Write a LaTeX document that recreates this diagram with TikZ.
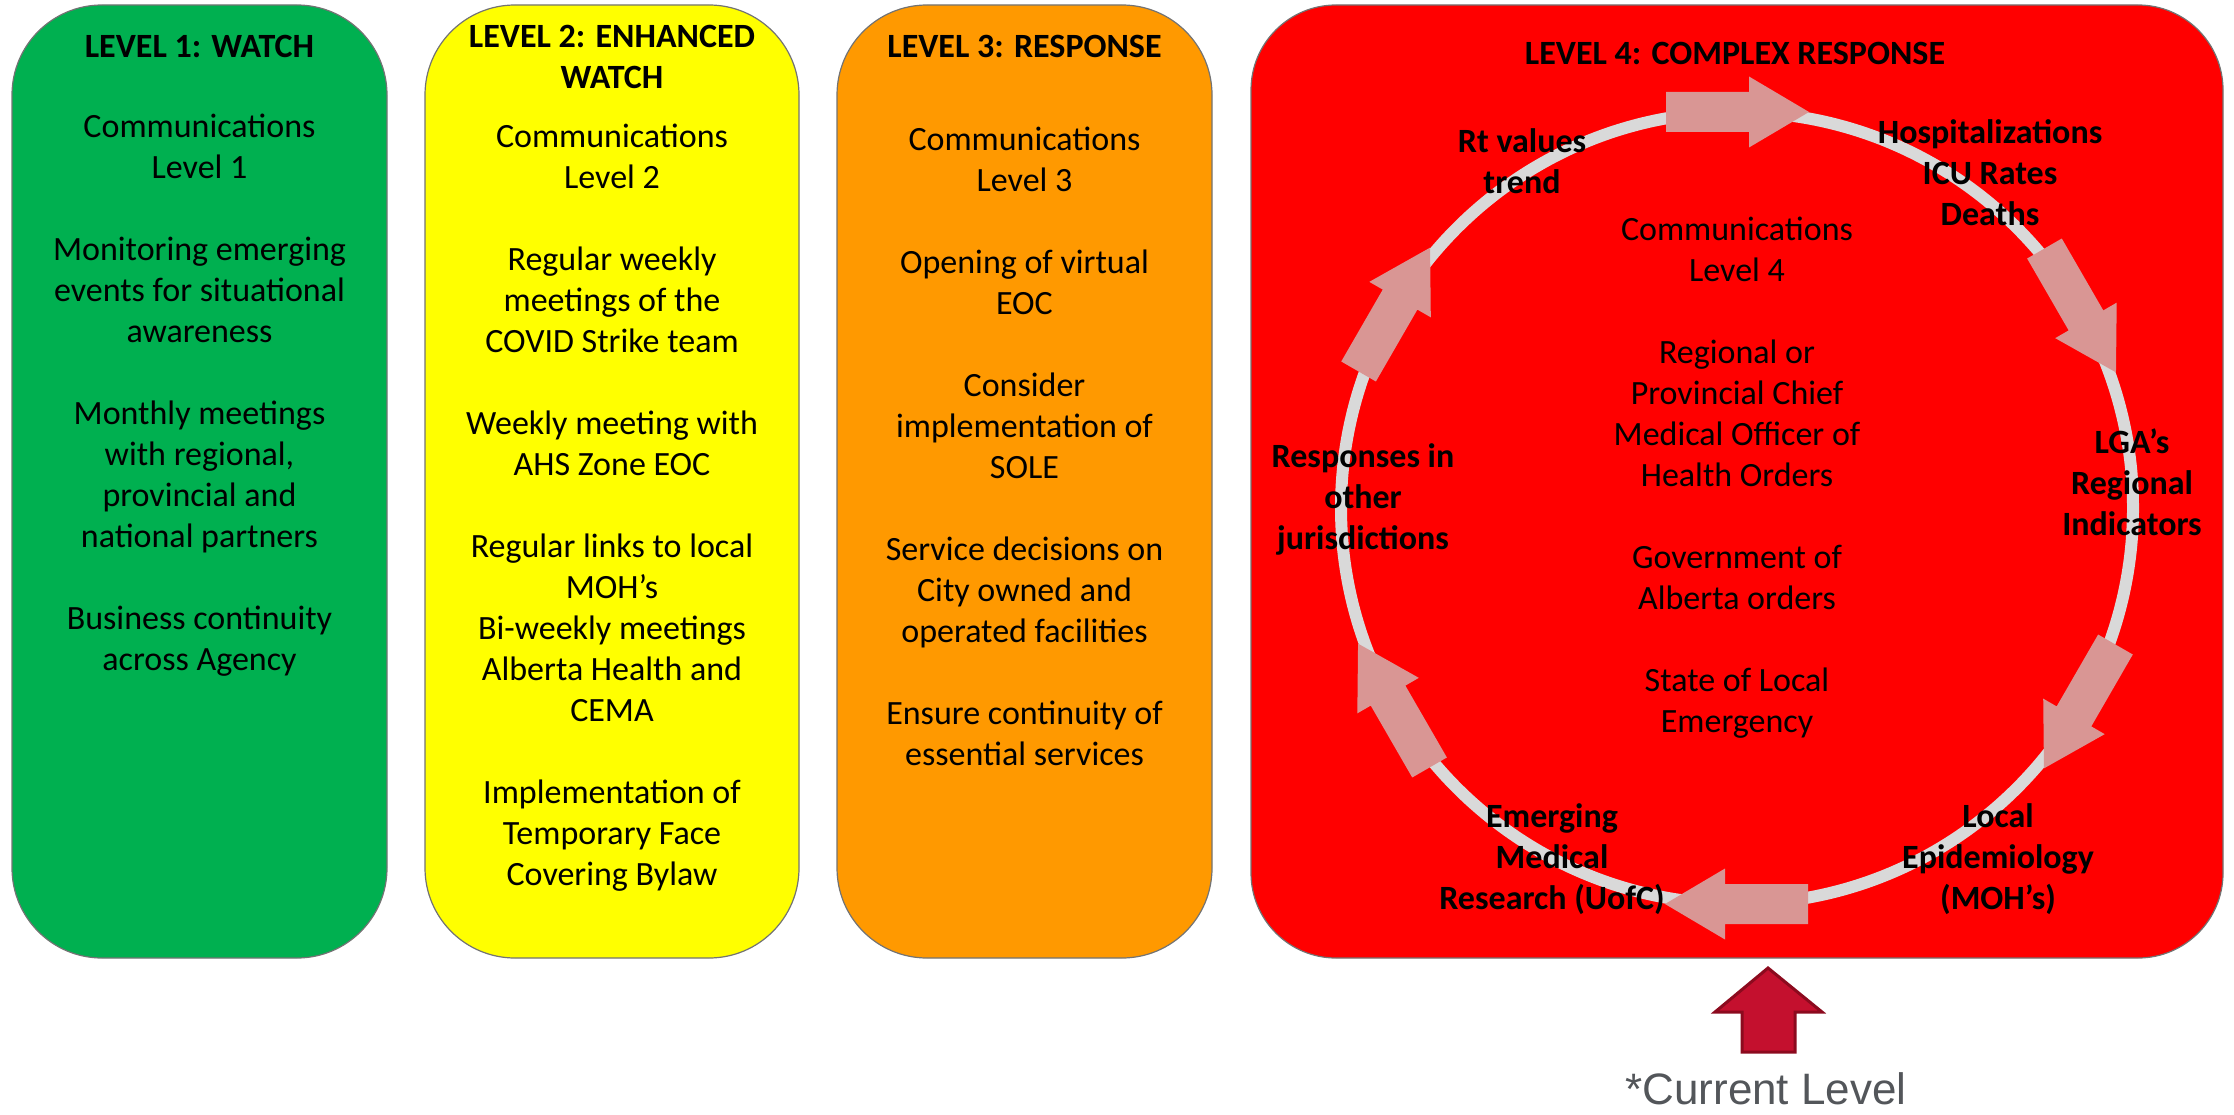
\documentclass[tikz,border=0pt]{standalone}
\usepackage{fontspec}
\setmainfont{Carlito}
\newfontfamily\arialfont{Liberation Sans}
\definecolor{lvgreen}{RGB}{0,176,80}
\definecolor{lvyellow}{RGB}{255,255,0}
\definecolor{lvorange}{RGB}{255,153,0}
\definecolor{lvred}{RGB}{255,0,0}
\definecolor{ringgray}{RGB}{217,217,217}
\definecolor{ringarrow}{RGB}{217,150,148}
\definecolor{curred}{RGB}{196,16,46}
\definecolor{curdark}{RGB}{140,10,30}
\definecolor{curtext}{RGB}{83,86,90}
\begin{document}
\begin{tikzpicture}[x=1pt,y=-1pt,
  levelbox/.style={draw=black!55, line width=1.2pt, rounded corners=90pt, inner sep=0pt},
  bodytext/.style={font=\fontsize{34}{41}\selectfont, align=center, inner sep=0pt, anchor=north},
  titletext/.style={font=\fontsize{34}{41}\selectfont\bfseries, align=center, inner sep=0pt},
  labeltext/.style={font=\fontsize{34}{41}\selectfont\bfseries, align=center, inner sep=0pt, anchor=north},
  ring/.style={draw=ringgray, line width=12pt},
  ringarrowshape/.style={fill=ringarrow},
  curarrow/.style={fill=curred, draw=curdark, line width=3pt, line join=miter}
]
\useasboundingbox (0,0) rectangle (2234,1115);

% level boxes
\node[levelbox, fill=lvgreen, minimum width=375pt, minimum height=953pt] (box1) at (199.5,481.5) {};
\node[levelbox, fill=lvyellow, minimum width=374pt, minimum height=953pt] (box2) at (612,481.5) {};
\node[levelbox, fill=lvorange, minimum width=375pt, minimum height=953pt] (box3) at (1024.5,481.5) {};
\node[levelbox, fill=lvred, rounded corners=85pt, minimum width=972pt, minimum height=953pt] (box4) at (1737,481.5) {};

% titles
\node[titletext, anchor=base] (h1) at (199.5,58) {LEVEL 1: WATCH};
\node[titletext, anchor=north] (h2) at (612,17) {\rule{0pt}{30pt}LEVEL 2: ENHANCED\\WATCH};
\node[titletext, anchor=base] (h3) at (1024.5,58) {LEVEL 3: RESPONSE};
\node[titletext, anchor=base] (h4) at (1735,65) {LEVEL 4: COMPLEX RESPONSE};

% column bodies
\node[bodytext] (b1) at (199.5,107) {\rule{0pt}{30pt}Communications\\Level 1\\[41pt]Monitoring emerging\\events for situational\\awareness\\[41pt]Monthly meetings\\with regional,\\provincial and\\national partners\\[41pt]Business continuity\\across Agency};
\node[bodytext] (b2) at (612,117) {\rule{0pt}{30pt}Communications\\Level 2\\[41pt]Regular weekly\\meetings of the\\COVID Strike team\\[41pt]Weekly meeting with\\AHS Zone EOC\\[41pt]Regular links to local\\MOH’s\\Bi-weekly meetings\\Alberta Health and\\CEMA\\[41pt]Implementation of\\Temporary Face\\Covering Bylaw};
\node[bodytext] (b3) at (1024.5,120) {\rule{0pt}{30pt}Communications\\Level 3\\[41pt]Opening of virtual\\EOC\\[41pt]Consider\\implementation of\\SOLE\\[41pt]Service decisions on\\City owned and\\operated facilities\\[41pt]Ensure continuity of\\essential services};

% cycle ring
\coordinate (ctr) at (1737,508);
\draw[ring] (ctr) circle[radius=396pt];
\foreach \a in {0,-60,-120,-180,-240,-300} {
  \begin{scope}[shift={(1737,508)}, rotate=\a]
    \fill[ringarrowshape] (-71,-416) -- (12,-416) -- (12,-431.5) -- (72,-396) -- (12,-360.5) -- (12,-376) -- (-71,-376) -- cycle;
  \end{scope}
}

% level 4 centre text
\node[bodytext] (b4) at (1737,210) {\rule{0pt}{30pt}Communications\\Level 4\\[41pt]Regional or\\Provincial Chief\\Medical Officer of\\Health Orders\\[41pt]Government of\\Alberta orders\\[41pt]State of Local\\Emergency};

% cycle labels
\node[labeltext] (rt) at (1522,122) {\rule{0pt}{30pt}Rt values\\trend};
\node[labeltext] (hosp) at (1990,113) {\rule{0pt}{30pt}Hospitalizations\\ICU Rates\\Deaths};
\node[labeltext] (lga) at (2132,423) {\rule{0pt}{30pt}LGA’s\\Regional\\Indicators};
\node[labeltext] (local) at (1998,797) {\rule{0pt}{30pt}Local\\Epidemiology\\(MOH’s)};
\node[labeltext] (emerg) at (1552,797) {\rule{0pt}{30pt}Emerging\\Medical\\Research (UofC)};
\node[labeltext] (resp) at (1363,437) {\rule{0pt}{30pt}Responses in\\other\\jurisdictions};

% current level marker
\draw[curarrow] (1768,968) -- (1822,1012) -- (1795,1012) -- (1795,1052) -- (1742,1052) -- (1742,1012) -- (1715,1012) -- cycle;
\node[font=\arialfont\fontsize{44}{50}\selectfont, text=curtext, anchor=base, inner sep=0pt] (cur) at (1766,1104) {*Current Level};
\end{tikzpicture}
\end{document}
